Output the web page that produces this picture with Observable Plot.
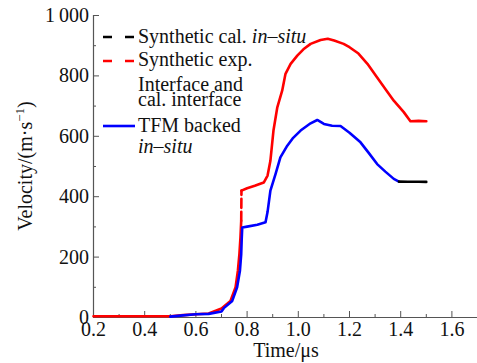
<!DOCTYPE html>
<html>
<head>
<meta charset="utf-8">
<script src="https://cdn.jsdelivr.net/npm/d3@7"></script>
<script src="https://cdn.jsdelivr.net/npm/@observablehq/plot@0.6"></script>
<style>
  body { margin: 0; background: #fff; }
  #chart svg, #chart svg text { font-family: "Liberation Serif", "Times New Roman", Tinos, "DejaVu Serif", "Noto Serif", Times, serif !important; }
</style>
</head>
<body>
<div id="chart"></div>
<script>
// Red: synthetic exp. / interface and cal. interface
const redTime = [0.2, 0.5, 0.55, 0.6, 0.65, 0.7, 0.735, 0.755, 0.764, 0.77, 0.774, 0.777,
  0.778, 0.80, 0.83, 0.865, 0.88, 0.891, 0.903, 0.918, 0.937, 0.95, 0.97, 0.996, 1.02, 1.048,
  1.087, 1.115, 1.14, 1.177, 1.2, 1.235, 1.27, 1.308, 1.34, 1.373, 1.412, 1.438, 1.47, 1.5];
const redVel = [4, 4, 8, 11, 13, 30, 55, 100, 155, 211, 265, 320,
  420, 428, 436, 447, 470, 519, 619, 696, 751, 807, 840, 867, 888, 906,
  919, 923, 917, 906, 895, 874, 840, 795, 757, 718, 680, 650, 651, 650];
// Blue: TFM backed in-situ
const blueTime = [0.5, 0.55, 0.6, 0.65, 0.7, 0.709, 0.742, 0.761, 0.772, 0.777, 0.779, 0.781,
  0.80, 0.84, 0.872, 0.88, 0.891, 0.911, 0.93, 0.957, 0.98, 1.009, 1.048, 1.074, 1.1, 1.132,
  1.165, 1.2, 1.243, 1.275, 1.308, 1.34, 1.373, 1.393];
const blueVel = [3, 7, 11, 12, 20, 31, 55, 100, 155, 210, 260, 298,
  301, 307, 315, 350, 420, 475, 530, 569, 595, 619, 643, 654, 641, 635,
  634, 612, 580, 545, 508, 483, 459, 450];
// Black: synthetic cal. in-situ (visible tail)
const blackTime = [1.393, 1.5];
const blackVel = [450, 449];

const xMajor = [0.2, 0.4, 0.6, 0.8, 1.0, 1.2, 1.4, 1.6];
const xMinor = [0.3, 0.5, 0.7, 0.9, 1.1, 1.3, 1.5, 1.7];
const yMajor = [0, 200, 400, 600, 800, 1000];
const yMinor = [100, 300, 500, 700, 900];

const legendLabels = [
  ["Synthetic cal. ", {it: "in\u2013situ"}],
  ["Synthetic exp."],
  ["Interface and"],
  ["cal. interface"],
  ["TFM backed"],
  [{it: "in\u2013situ"}]
];
const legendColors = ["#000000", "#ff0000", "#0000ff"];

const toPts = (t, v) => t.map((d, i) => ({t: d, v: v[i]}));
const red = toPts(redTime, redVel);
const jumpIdx = redTime.indexOf(0.777);
const redLow = red.slice(0, jumpIdx + 1);
const redHigh = red.slice(jumpIdx + 1);
const redJump = red.slice(jumpIdx, jumpIdx + 2);
const blue = toPts(blueTime, blueVel);
const black = toPts(blackTime, blackVel);

const axisColor = "#555";
const fmtY = d => d === 1000 ? "1\u2009000" : String(d);
const serif = "'Liberation Serif', 'Times New Roman', Tinos, 'DejaVu Serif', 'Noto Serif', Times, serif";

const plot = Plot.plot({
  width: 477,
  height: 363,
  marginLeft: 93,
  marginRight: 0,
  marginTop: 15,
  marginBottom: 46,
  style: {fontFamily: serif, fontSize: "20px", color: "#111", background: "#fff"},
  x: {domain: [0.2, 1.7]},
  y: {domain: [0, 1000]},
  marks: [
    Plot.axisX(xMajor, {tickSize: -6, tickPadding: 10, tickFormat: d => d.toFixed(1), stroke: axisColor, fill: "#111", label: null}),
    Plot.axisX(xMinor, {tickSize: -3, tickFormat: () => "", stroke: axisColor, label: null}),
    Plot.axisY(yMajor, {tickSize: -6, tickPadding: 10.5, tickFormat: fmtY, stroke: axisColor, fill: "#111", label: null}),
    Plot.axisY(yMinor, {tickSize: -3, tickFormat: () => "", stroke: axisColor, label: null}),
    Plot.ruleY([0], {stroke: axisColor, strokeWidth: 1.2}),
    Plot.ruleX([0.2], {stroke: axisColor, strokeWidth: 1.2}),
    Plot.line(redLow, {x: "t", y: "v", stroke: "#ff0000", strokeWidth: 2.6}),
    Plot.line(redJump, {x: "t", y: "v", stroke: "#ff0000", strokeWidth: 2.6, strokeDasharray: "9,4"}),
    Plot.line(redHigh, {x: "t", y: "v", stroke: "#ff0000", strokeWidth: 2.6}),
    Plot.line(blue, {x: "t", y: "v", stroke: "#0000ff", strokeWidth: 2.6}),
    Plot.line(black, {x: "t", y: "v", stroke: "#000", strokeWidth: 2.6, strokeDasharray: "9,1"})
  ]
});

const svg = d3.select(plot);
// axis titles
svg.append("text")
  .attr("x", 286).attr("y", 357)
  .attr("text-anchor", "middle")
  .attr("font-size", 20).attr("fill", "#111")
  .text("Time/\u03bcs");
const yt = svg.append("text")
  .attr("transform", "translate(32,166) rotate(-90)")
  .attr("text-anchor", "middle")
  .attr("font-size", 20).attr("fill", "#111");
yt.append("tspan").text("Velocity/(m\u00b7s");
yt.append("tspan").attr("font-size", 13).attr("dy", -8).text("\u22121");
yt.append("tspan").attr("dy", 8).text(")");

// legend
const lg = svg.append("g").attr("text-anchor", "start");
const baselines = [43, 66, 90.5, 106, 131.5, 152.5];
legendLabels.forEach((parts, i) => {
  const t = lg.append("text").attr("x", 138).attr("y", baselines[i])
    .attr("text-anchor", "start")
    .attr("font-size", 20).attr("fill", "#111");
  parts.forEach(p => {
    if (typeof p === "string") t.append("tspan").text(p);
    else t.append("tspan").attr("font-style", "italic").text(p.it);
  });
});
const swatchY = [37, 61, 126];
const swatchDash = ["9,13", "9,13", null];
swatchY.forEach((y, i) => {
  const l = lg.append("line").attr("x1", 103).attr("x2", 135).attr("y1", y).attr("y2", y)
    .attr("stroke", legendColors[i]).attr("stroke-width", 2.6);
  if (swatchDash[i]) l.attr("stroke-dasharray", swatchDash[i]);
});
svg.selectAll("text").attr("font-family", serif).style("font-family", serif);

document.getElementById("chart").appendChild(plot);
</script>
</body>
</html>
